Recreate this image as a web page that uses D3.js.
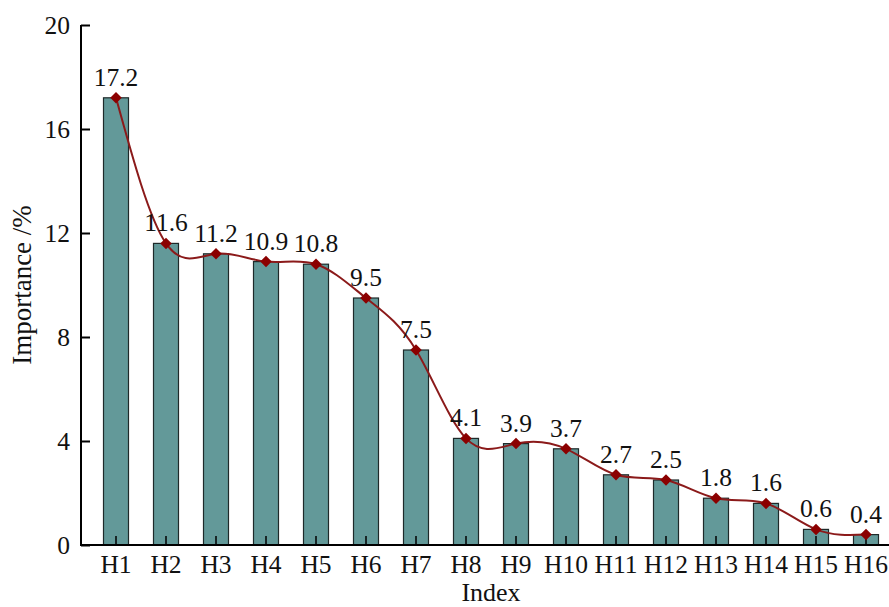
<!DOCTYPE html>
<html>
<head>
<meta charset="utf-8">
<script src="https://cdn.jsdelivr.net/npm/d3@7"></script>
<style>
  html, body { margin: 0; padding: 0; background: #fff; }
  svg { display: block; font-family: "Liberation Serif", "Times New Roman", serif; }
</style>
</head>
<body>
<svg id="chart" width="889" height="607"></svg>
<script>
// Indicator importance (%)
const categories = ["H1","H2","H3","H4","H5","H6","H7","H8","H9","H10","H11","H12","H13","H14","H15","H16"];
const importance = [17.2, 11.6, 11.2, 10.9, 10.8, 9.5, 7.5, 4.1, 3.9, 3.7, 2.7, 2.5, 1.8, 1.6, 0.6, 0.4];
const yTicks = [0, 4, 8, 12, 16, 20];

const data = categories.map((c, i) => ({ cat: c, value: importance[i] }));

const svg = d3.select("#chart");
const plotLeft = 81, plotRight = 891, plotTop = 25, plotBottom = 545;
const labelSize = 25.5, titleSize = 27;

const x = d3.scaleBand()
  .domain(categories)
  .range([91, plotRight])
  .paddingInner(0.5)
  .paddingOuter(0.25);

const y = d3.scaleLinear().domain([0, 20]).range([plotBottom, plotTop]);

const cx = d => x(d.cat) + x.bandwidth() / 2;

// bars
svg.append("g").selectAll("rect")
  .data(data)
  .join("rect")
  .attr("x", d => x(d.cat))
  .attr("y", d => y(d.value))
  .attr("width", x.bandwidth())
  .attr("height", d => y(0) - y(d.value))
  .attr("fill", "#639999")
  .attr("stroke", "#1e2a2a")
  .attr("stroke-width", 1.2);

// y axis (ticks inward)
const yAxis = svg.append("g")
  .attr("transform", `translate(${plotLeft},0)`)
  .call(d3.axisRight(y).tickValues(yTicks).tickSize(9).tickFormat(""));
yAxis.select(".domain").attr("d", `M0,${plotTop}V${plotBottom}`).attr("stroke", "#000").attr("stroke-width", 2);
yAxis.selectAll(".tick line").attr("stroke", "#000").attr("stroke-width", 2);

svg.append("g").selectAll("text")
  .data(yTicks)
  .join("text")
  .attr("x", plotLeft - 11)
  .attr("y", d => y(d))
  .attr("dy", "0.35em")
  .attr("text-anchor", "end")
  .attr("font-size", labelSize)
  .attr("fill", "#111")
  .text(d => d);

// x axis (ticks inward)
const xAxis = svg.append("g")
  .attr("transform", `translate(0,${plotBottom})`)
  .call(d3.axisTop(x).tickSize(9).tickFormat(""));
xAxis.select(".domain").attr("d", `M${plotLeft - 1},0H889`).attr("stroke", "#000").attr("stroke-width", 2);
xAxis.selectAll(".tick line").attr("stroke", "#000").attr("stroke-width", 1.5);

svg.append("g").selectAll("text")
  .data(categories)
  .join("text")
  .attr("x", c => x(c) + x.bandwidth() / 2)
  .attr("y", 573)
  .attr("text-anchor", "middle")
  .attr("font-size", labelSize)
  .attr("fill", "#111")
  .text(c => c);

// smoothed trend line
const line = d3.line()
  .x(cx)
  .y(d => y(d.value))
  .curve(d3.curveNatural);

svg.append("path")
  .datum(data)
  .attr("d", line)
  .attr("fill", "none")
  .attr("stroke", "#8b1a1a")
  .attr("stroke-width", 2);

// diamond markers
svg.append("g").selectAll("path")
  .data(data)
  .join("path")
  .attr("transform", d => `translate(${cx(d)},${y(d.value)})`)
  .attr("d", d3.symbol(d3.symbolDiamond2, 85))
  .attr("fill", "#8b0000");

// value labels
svg.append("g").selectAll("text")
  .data(data)
  .join("text")
  .attr("x", cx)
  .attr("y", d => y(d.value) - 12)
  .attr("text-anchor", "middle")
  .attr("font-size", labelSize)
  .attr("fill", "#111")
  .text(d => d.value);

// axis titles
svg.append("text")
  .attr("x", 491)
  .attr("y", 601)
  .attr("text-anchor", "middle")
  .attr("font-size", 26)
  .attr("fill", "#111")
  .text("Index");

svg.append("text")
  .attr("transform", "translate(31,285) rotate(-90)")
  .attr("text-anchor", "middle")
  .attr("font-size", titleSize)
  .attr("fill", "#111")
  .text("Importance /%");
</script>
</body>
</html>
